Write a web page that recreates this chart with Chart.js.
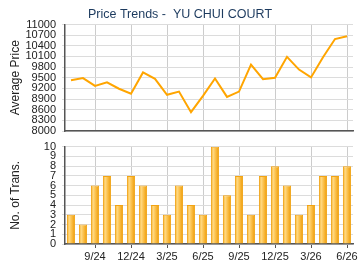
<!DOCTYPE html>
<html>
<head>
<meta charset="utf-8">
<script src="https://cdn.jsdelivr.net/npm/chart.js@4/dist/chart.umd.min.js"></script>
<style>
html,body{margin:0;padding:0;background:#fff;}
#wrap{position:relative;width:360px;height:270px;overflow:hidden;}
#c1{position:absolute;left:0;top:0;}
#c2{position:absolute;left:0;top:140px;}
</style>
</head>
<body>
<div id="wrap">
<canvas id="c1" width="360" height="140" style="width:360px;height:140px"></canvas>
<canvas id="c2" width="360" height="130" style="width:360px;height:130px"></canvas>
</div>
<script>
const months = ['7/24','8/24','9/24','10/24','11/24','12/24','1/25','2/25','3/25','4/25','5/25','6/25',
                '7/25','8/25','9/25','10/25','11/25','12/25','1/26','2/26','3/26','4/26','5/26','6/26'];
const avgPrice = [9430,9490,9270,9370,9190,9050,9650,9470,9020,9110,8530,8990,
                  9480,8960,9110,9870,9460,9500,10090,9730,9510,10080,10590,10670];
const transactions = [3,2,6,7,4,7,6,4,3,6,4,3,10,5,7,3,7,8,6,3,4,7,7,8];
const priceTicks = [8000,8300,8600,8900,9200,9500,9800,10100,10400,10700,11000];
const titleText = 'Price Trends -  YU CHUI COURT';

const FONT = 'Liberation Sans, Arial, sans-serif';
const tickColor = '#222';
const gridH = '#dcdcdc';
const gridV = '#cccccc';
const axisColor = '#555';
const showLabel = (i) => i % 3 === 2;

function yFit(scale){ scale.width = 58; scale.paddingTop = 0; scale.paddingBottom = 0; }
function xFit(h){ return (s) => { s.height = h; s.paddingLeft = 0; s.paddingRight = 0; }; }

new Chart(document.getElementById('c1'), {
  type: 'line',
  data: {
    labels: months,
    datasets: [{
      data: avgPrice,
      borderColor: '#FFA500',
      borderWidth: 2,
      pointRadius: 0,
      tension: 0,
      fill: false
    }]
  },
  options: {
    responsive: false,
    animation: false,
    layout: { padding: { left: 7, right: 7, top: 0, bottom: 0 } },
    plugins: {
      legend: { display: false },
      tooltip: { enabled: false },
      title: {
        display: true,
        text: titleText,
        color: '#1c3a5e',
        font: { family: FONT, size: 12.5, weight: 'normal' },
        padding: { top: 7.5, bottom: 2 }
      }
    },
    scales: {
      x: {
        type: 'category',
        offset: true,
        afterFit: xFit(9),
        grid: {
          offset: false,
          drawTicks: false,
          color: (c) => showLabel(c.index) ? gridV : 'rgba(0,0,0,0)',
          lineWidth: 1
        },
        border: { display: true, color: axisColor, width: 1.5 },
        ticks: { display: false }
      },
      y: {
        min: 8000,
        max: 11000,
        afterFit: yFit,
        afterBuildTicks: (s) => { s.ticks = priceTicks.map(v => ({ value: v })); },
        grid: { color: gridH, lineWidth: 1, tickLength: 3, drawTicks: true },
        border: { display: true, color: axisColor, width: 1.5 },
        ticks: {
          autoSkip: false,
          color: tickColor,
          padding: 6,
          font: { family: FONT, size: 11 },
          callback: (v) => String(v)
        },
        title: {
          display: true,
          text: 'Average Price',
          color: tickColor,
          font: { family: FONT, size: 12 },
          padding: { top: 1, bottom: 0 }
        }
      }
    }
  }
});

new Chart(document.getElementById('c2'), {
  type: 'bar',
  data: {
    labels: months,
    datasets: [{
      data: transactions,
      backgroundColor: (ctx) => {
        const chart = ctx.chart;
        if (!chart.chartArea || !chart.scales.x) return '#F8B83A';
        const x = chart.scales.x.getPixelForValue(ctx.dataIndex);
        const g = chart.ctx.createLinearGradient(x - 4, 0, x + 4, 0);
        g.addColorStop(0, '#F6B634');
        g.addColorStop(0.3, '#FFD77E');
        g.addColorStop(0.65, '#F9B93C');
        g.addColorStop(1, '#EC9A08');
        return g;
      },
      borderColor: '#F2A414',
      borderWidth: 1,
      borderSkipped: 'bottom',
      barPercentage: 0.68,
      categoryPercentage: 1
    }]
  },
  options: {
    responsive: false,
    animation: false,
    layout: { padding: { left: 7, right: 7, top: 6.7, bottom: 0 } },
    plugins: {
      legend: { display: false },
      tooltip: { enabled: false },
      title: { display: false }
    },
    scales: {
      x: {
        type: 'category',
        offset: true,
        afterFit: xFit(26),
        grid: {
          offset: false,
          drawTicks: true,
          tickLength: 4,
          color: (c) => showLabel(c.index) ? gridV : 'rgba(0,0,0,0)',
          tickColor: (c) => showLabel(c.index) ? axisColor : 'rgba(0,0,0,0)'
        },
        border: { display: true, color: axisColor, width: 1.5 },
        ticks: {
          color: tickColor,
          padding: 2,
          maxRotation: 0,
          autoSkip: false,
          font: { family: FONT, size: 11 },
          callback: (v, i) => showLabel(i) ? months[i] : ''
        }
      },
      y: {
        min: 0,
        max: 10,
        afterFit: yFit,
        grid: { color: gridH, lineWidth: 1, tickLength: 3, drawTicks: true },
        border: { display: true, color: axisColor, width: 1.5 },
        ticks: {
          stepSize: 1,
          autoSkip: false,
          color: tickColor,
          padding: 6,
          font: { family: FONT, size: 11 }
        },
        title: {
          display: true,
          text: 'No. of Trans.',
          color: tickColor,
          font: { family: FONT, size: 12 },
          padding: { top: 1, bottom: 0 }
        }
      }
    }
  }
});
</script>
</body>
</html>
